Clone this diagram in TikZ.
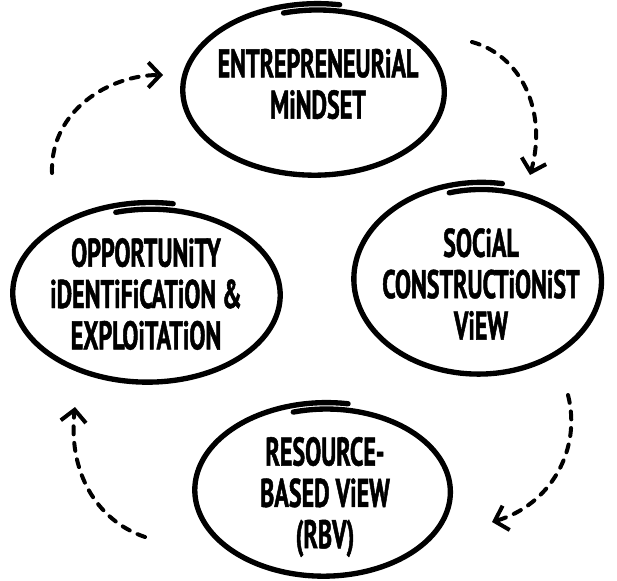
\documentclass[tikz,border=0pt]{standalone}
\usepackage{fontspec}
\setmainfont{PT Sans}[FakeStretch=0.6, BoldFeatures={FakeBold=1.2}]
\usetikzlibrary{arrows.meta}

\tikzset{
  ring/.style={line width=4pt, line cap=round, line join=round},
  cyclearrow/.style={line width=3pt, dash pattern=on 6pt off 6.5pt, line cap=round,
    -{Straight Barb[length=9pt,width=19pt,line width=3pt]}},
  ringtext/.style={align=center, font=\bfseries\fontsize{30}{31}\selectfont}
}

% hand drawn ellipse: centre, rx, ry
\newcommand{\sketchring}[3]{%
  \draw[ring, shift={#1}] plot[domain=255:640, samples=120, smooth]
    ({#2*cos(\x)*(0.95+0.08*(\x-255)/385)}, {#3*sin(\x)*(0.95+0.08*(\x-255)/385)});}

\begin{document}
\begin{tikzpicture}[x=0.75pt, y=-0.75pt]
\useasboundingbox (0,0) rectangle (617,581);

% the four views
\node[ringtext] (mindset) at (318,84) {ENTREPRENEURiAL\\MiNDSET};
\node[ringtext] (social) at (481,284) {SOCiAL\\CONSTRUCTiONiST\\ViEW};
\node[ringtext] (rbv) at (325,497) {RESOURCE-\\BASED ViEW\\(RBV)};
\node[ringtext] (opportunity) at (146,294) {OPPORTUNiTY\\iDENTiFiCATiON \&\\EXPLOiTATiON};

\sketchring{(316,91)}{132}{85}
\sketchring{(480,280)}{125}{95}
\sketchring{(325,491)}{129}{86}
\sketchring{(149,294)}{135}{89}

% arrow ends
\coordinate (a1) at (472,42);
\coordinate (b1) at (530,175);
\coordinate (a2) at (568,395);
\coordinate (b2) at (492,522);
\coordinate (a3) at (145,537);
\coordinate (b3) at (75,407);
\coordinate (a4) at (52,173);
\coordinate (b4) at (163,75);

\draw[cyclearrow] (a1) .. controls (520,55) and (548,110) .. (b1);
\draw[cyclearrow] (a2) .. controls (582,450) and (550,505) .. (b2);
\draw[cyclearrow] (a3) .. controls (95,520) and (68,470) .. (b3);
\draw[cyclearrow] (a4) .. controls (50,110) and (110,75) .. (b4);

\end{tikzpicture}
\end{document}
